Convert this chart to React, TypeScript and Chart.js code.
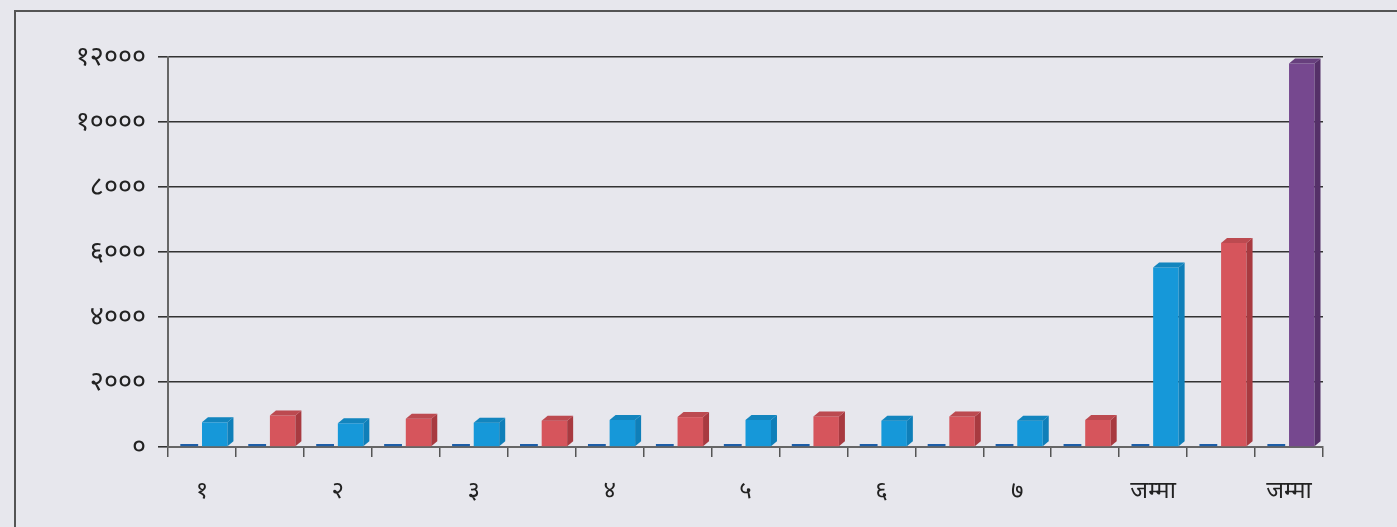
import React, { useEffect, useRef } from "react";
import { Chart, registerables } from "chart.js";

Chart.register(...registerables);

const categories = ["१", "१", "२", "२", "३", "३", "४", "४", "५", "५", "६", "६", "७", "७", "जम्मा", "जम्मा", "जम्मा"];
const baseValues = [20, 20, 20, 20, 20, 20, 20, 20, 20, 20, 20, 20, 20, 20, 20, 20, 20];
const mainValues = [760, 970, 730, 870, 750, 810, 830, 920, 830, 940, 810, 940, 810, 830, 5520, 6280, 11800];
const yTicks = [0, 2000, 4000, 6000, 8000, 10000, 12000];

const BLUE = "#1698d9";
const RED = "#d6555c";
const PURPLE = "#76488f";
const DARK_BLUE = "#1d5ea8";

const mainColors = mainValues.map((_, i) =>
  i === 16 ? PURPLE : i === 15 ? RED : i === 14 ? BLUE : i % 2 === 0 ? BLUE : RED
);
const sideColors = mainColors.map((c) =>
  c === BLUE ? "#0f7fb9" : c === RED ? "#a83a40" : "#553068"
);

const devDigits = ["०", "१", "२", "३", "४", "५", "६", "७", "८", "९"];
const toDev = (n: number) =>
  String(n)
    .split("")
    .map((d) => (d >= "0" && d <= "9" ? devDigits[+d] : d))
    .join("");

const FONT = "'Noto Sans', 'Noto Sans Devanagari', 'Lohit Devanagari', 'FreeSans', sans-serif";

const bar3d = {
  id: "bar3d",
  afterDatasetsDraw(chart: any) {
    const ctx = chart.ctx;
    const meta = chart.getDatasetMeta(1);
    const d = 6;
    const dy = 5;
    ctx.save();
    meta.data.forEach((bar: any, i: number) => {
      const { x, y, base, width } = bar.getProps(["x", "y", "base", "width"], true);
      const r = x + width / 2;
      const l = x - width / 2;
      ctx.fillStyle = sideColors[i];
      ctx.beginPath();
      ctx.moveTo(r, y);
      ctx.lineTo(r + d, y - dy);
      ctx.lineTo(r + d, base - dy);
      ctx.lineTo(r, base);
      ctx.closePath();
      ctx.fill();
      ctx.fillStyle = mainColors[i];
      ctx.beginPath();
      ctx.moveTo(l, y);
      ctx.lineTo(l + d, y - dy);
      ctx.lineTo(r + d, y - dy);
      ctx.lineTo(r, y);
      ctx.closePath();
      ctx.fill();
      ctx.fillStyle = "rgba(0,0,0,0.12)";
      ctx.fill();
    });
    ctx.restore();
  },
};

export default function App() {
  const ref = useRef<HTMLCanvasElement | null>(null);

  useEffect(() => {
    if (!ref.current) return;
    const chart = new Chart(ref.current, {
      type: "bar",
      data: {
        labels: categories,
        datasets: [
          {
            label: "क्र.सं.",
            data: baseValues,
            backgroundColor: DARK_BLUE,
            minBarLength: 3,
            barPercentage: 0.7,
            categoryPercentage: 0.75,
          },
          {
            label: "संख्या",
            data: mainValues,
            backgroundColor: mainColors,
            barPercentage: 1.0,
            categoryPercentage: 0.75,
          },
        ],
      },
      options: {
        responsive: false,
        animation: false,
        layout: { padding: { top: 57, right: 74, left: 0, bottom: 0 } },
        plugins: { legend: { display: false }, tooltip: { enabled: false } },
        scales: {
          x: {
            grid: {
              display: true,
              drawOnChartArea: false,
              drawTicks: true,
              tickLength: 10,
              color: "#555",
              lineWidth: 1.5,
            },
            border: { display: true, color: "#666", width: 2 },
            ticks: {
              autoSkip: false,
              maxRotation: 0,
              padding: 20,
              color: "#222",
              font: { family: FONT, size: 24 },
              callback: (_v: any, i: number) => (i % 2 === 0 ? categories[i] : ""),
            },
            afterFit: (s: any) => {
              s.height = 80;
            },
          },
          y: {
            min: 0,
            max: 12000,
            afterBuildTicks: (s: any) => {
              s.ticks = yTicks.map((v) => ({ value: v }));
            },
            grid: {
              color: "#333",
              lineWidth: 1.6,
              tickLength: 10,
            },
            border: { display: true, color: "#666", width: 2 },
            ticks: {
              padding: 12,
              color: "#222",
              font: { family: FONT, size: 27 },
              callback: (v: any) => toDev(Number(v)),
            },
            afterFit: (s: any) => {
              s.width = 168;
            },
          },
        },
      },
      plugins: [bar3d],
    });
    return () => chart.destroy();
  }, []);

  return (
    <div
      style={{
        position: "fixed",
        left: 0,
        top: 0,
        width: 1397,
        height: 527,
        background: "#e7e7ed",
        overflow: "hidden",
      }}
    >
      <div
        style={{
          position: "absolute",
          left: 14,
          top: 10,
          width: 1400,
          height: 540,
          borderLeft: "2px solid #555",
          borderTop: "2px solid #555",
        }}
      />
      <canvas ref={ref} width={1397} height={527} style={{ position: "absolute", left: 0, top: 0 }} />
    </div>
  );
}
